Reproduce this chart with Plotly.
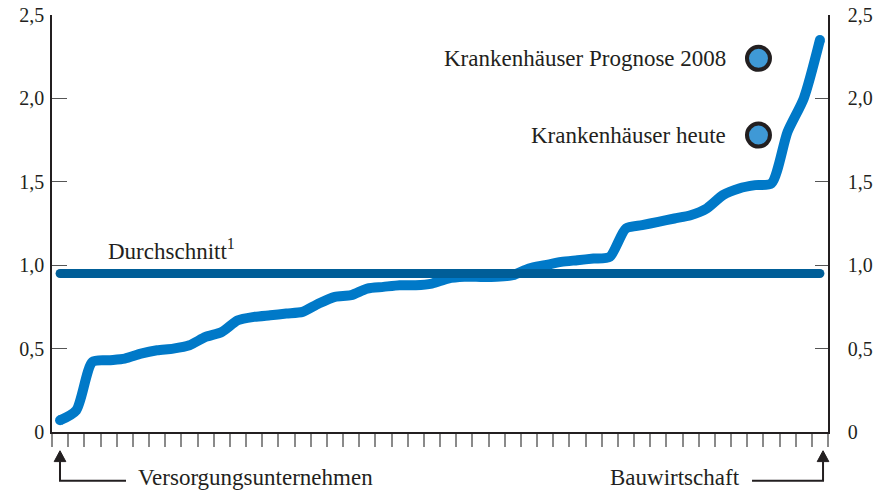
import plotly.graph_objects as go

# ---------------- data ----------------
sector_pos = [i + 0.5 for i in range(48)]
sector_values = [0.07, 0.13, 0.42, 0.43, 0.44, 0.47, 0.49, 0.50, 0.52, 0.57,
                 0.60, 0.67, 0.69, 0.70, 0.71, 0.72, 0.77, 0.81, 0.82, 0.86,
                 0.87, 0.88, 0.88, 0.89, 0.92, 0.93, 0.93, 0.93, 0.94, 0.98,
                 1.00, 1.02, 1.03, 1.04, 1.05, 1.22, 1.24, 1.26, 1.28, 1.30,
                 1.34, 1.42, 1.46, 1.48, 1.49, 1.80, 2.00, 2.35]
average_value = 0.95
hospital_labels = ["Krankenhäuser Prognose 2008", "Krankenhäuser heute"]
hospital_values = [2.24, 1.78]
hospital_pos = [43.7, 43.7]
y_tickvals = [0, 0.5, 1.0, 1.5, 2.0, 2.5]
y_ticktext = ["0", "0,5", "1,0", "1,5", "2,0", "2,5"]
x_tickvals = list(range(49))

LINE = "#0079C8"
AVG = "#005E98"
DOT = "#3F99D6"
INK = "#231F20"
FONT = "Liberation Serif"

fig = go.Figure()

# main curve
fig.add_trace(go.Scatter(x=sector_pos, y=sector_values, mode="lines",
                         line=dict(color=LINE, width=10, shape="spline", smoothing=0.7),
                         hoverinfo="skip", showlegend=False))
fig.add_trace(go.Scatter(x=[sector_pos[0], sector_pos[-1]],
                         y=[sector_values[0], sector_values[-1]], mode="markers",
                         marker=dict(color=LINE, size=10), hoverinfo="skip", showlegend=False))

# average line
fig.add_trace(go.Scatter(x=[sector_pos[0], sector_pos[-1]], y=[average_value, average_value],
                         mode="lines+markers", line=dict(color=AVG, width=9),
                         marker=dict(color=AVG, size=9),
                         hoverinfo="skip", showlegend=False))

# hospitals markers (on right axis, same range)
fig.add_trace(go.Scatter(x=hospital_pos, y=hospital_values, mode="markers", yaxis="y2",
                         marker=dict(color=DOT, size=23, line=dict(color=INK, width=4)),
                         hoverinfo="skip", showlegend=False))

for lab, val in zip(hospital_labels, hospital_values):
    fig.add_annotation(x=hospital_pos[0], y=val, xref="x", yref="y", text=lab,
                       showarrow=False, xanchor="right", yanchor="middle", xshift=-30,
                       font=dict(family=FONT, size=23, color=INK))

fig.add_annotation(x=0.0696, y=average_value, xref="paper", yref="y",
                   text="Durchschnitt<sup>1</sup>", showarrow=False,
                   xanchor="left", yanchor="bottom", yshift=8,
                   font=dict(family=FONT, size=23, color=INK))

fig.add_annotation(x=0.1082, y=-0.108, xref="paper", yref="paper",
                   text="Versorgungsunternehmen", showarrow=False,
                   xanchor="left", yanchor="middle",
                   font=dict(family=FONT, size=23, color=INK))
fig.add_annotation(x=0.8892, y=-0.108, xref="paper", yref="paper",
                   text="Bauwirtschaft", showarrow=False,
                   xanchor="right", yanchor="middle",
                   font=dict(family=FONT, size=23, color=INK))

# elbow arrows (paper coords)
ya = -0.117   # horizontal line level
yb = -0.071   # arrow head base
yt = -0.045   # arrow tip
xl, xl2 = 0.0103, 0.0954
xr, xr2 = 0.9936, 0.9021
hw = 0.0075
fig.add_shape(type="path", xref="paper", yref="paper",
              path=f"M {xl2},{ya} L {xl},{ya} L {xl},{yb}",
              line=dict(color=INK, width=2))
fig.add_shape(type="path", xref="paper", yref="paper",
              path=f"M {xl-hw},{yb} L {xl+hw},{yb} L {xl},{yt} Z",
              line=dict(color=INK, width=1), fillcolor=INK)
fig.add_shape(type="path", xref="paper", yref="paper",
              path=f"M {xr2},{ya} L {xr},{ya} L {xr},{yb}",
              line=dict(color=INK, width=2))
fig.add_shape(type="path", xref="paper", yref="paper",
              path=f"M {xr-hw},{yb} L {xr+hw},{yb} L {xr},{yt} Z",
              line=dict(color=INK, width=1), fillcolor=INK)

fig.update_layout(
    width=877, height=490,
    margin=dict(l=52, r=49, t=15, b=58, autoexpand=False),
    paper_bgcolor="white", plot_bgcolor="white",
    font=dict(family=FONT, size=20, color=INK),
    xaxis=dict(range=[0, 48], tickvals=x_tickvals, showticklabels=False,
               ticks="outside", ticklen=13, tickwidth=1.5, tickcolor="#8a8a8a",
               showline=True, linecolor=INK, linewidth=1.5, automargin=False,
               showgrid=False, zeroline=False, fixedrange=True),
    yaxis=dict(range=[0, 2.5], tickvals=y_tickvals, ticktext=y_ticktext,
               ticks="inside", ticklen=15, tickwidth=1.2, tickcolor="#555555",
               showline=True, linecolor=INK, linewidth=1.5, automargin=False,
               showgrid=False, zeroline=False, ticklabelstandoff=2,
               tickfont=dict(family=FONT, size=20, color=INK)),
    yaxis2=dict(range=[0, 2.5], tickvals=y_tickvals, ticktext=y_ticktext,
                overlaying="y", side="right", automargin=False,
                ticks="inside", ticklen=13, tickwidth=1.2, tickcolor="#555555",
                showline=True, linecolor=INK, linewidth=1.5,
                showgrid=False, zeroline=False, ticklabelstandoff=14,
                tickfont=dict(family=FONT, size=20, color=INK)),
)

fig.write_html("out.html", config={"displayModeBar": False},
               post_script="document.body.style.margin='0';document.body.style.overflow='hidden';")
